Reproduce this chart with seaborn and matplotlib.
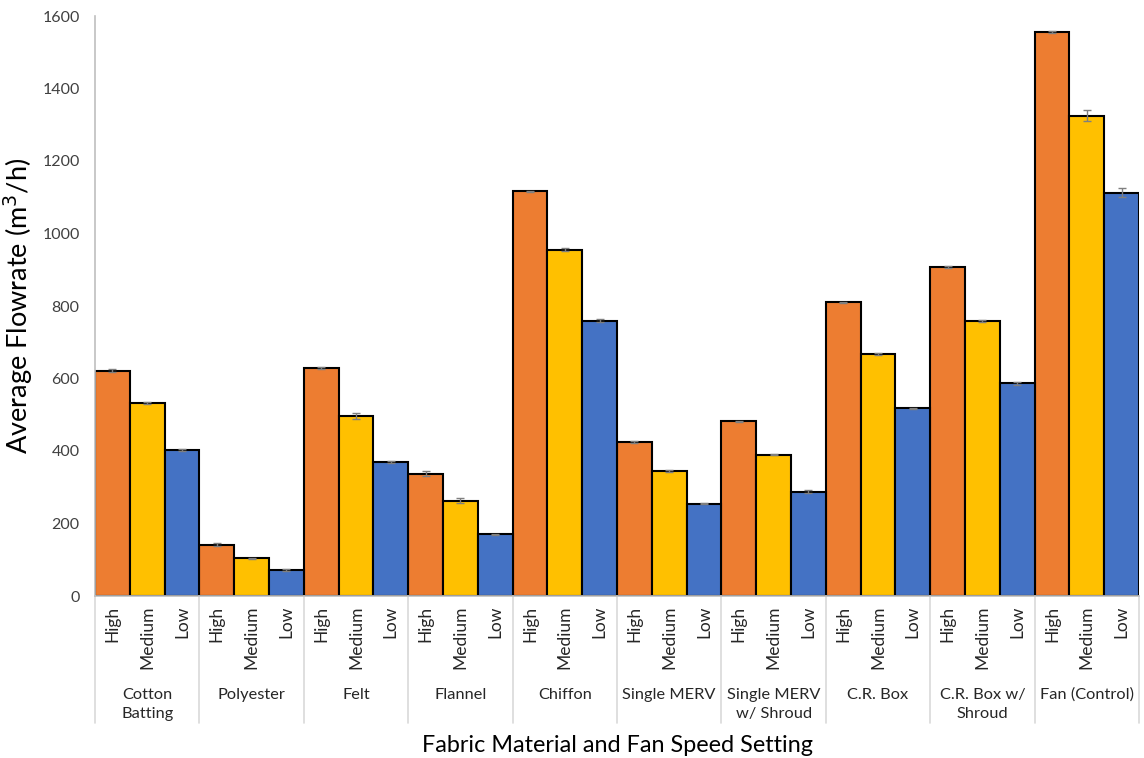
import matplotlib
matplotlib.use("Agg")
import matplotlib.pyplot as plt
import matplotlib.transforms as mtransforms
import numpy as np
import pandas as pd
import seaborn as sns

# Filter materials and fan speeds
materials = ["Cotton\nBatting", "Polyester", "Felt", "Flannel", "Chiffon",
             "Single MERV", "Single MERV\nw/ Shroud", "C.R. Box",
             "C.R. Box w/\nShroud", "Fan (Control)"]
speeds = ["High", "Medium", "Low"]

# Average flowrate (m3/h) per speed setting
flow_high = [622, 142, 630, 337, 1116, 425, 482, 810, 907, 1555]
flow_medium = [533, 104, 496, 263, 955, 345, 390, 668, 758, 1325]
flow_low = [403, 72, 370, 170, 760, 255, 288, 518, 587, 1113]

# Standard deviations
err_high = [4, 3, 3, 7, 2, 3, 2, 2, 2, 3]
err_medium = [3, 2, 9, 7, 4, 2, 2, 2, 3, 16]
err_low = [2, 2, 2, 2, 3, 2, 4, 2, 4, 12]

colors = ["#ED7D31", "#FFC000", "#4472C4"]

rows = []
for s, vals, errs in zip(speeds, [flow_high, flow_medium, flow_low],
                         [err_high, err_medium, err_low]):
    for m, v, e in zip(materials, vals, errs):
        rows.append({"material": m, "speed": s, "flow": v, "err": e})
df = pd.DataFrame(rows)

sns.set_style("white")
plt.rcParams["font.family"] = ["Lato", "DejaVu Sans"]

fig = plt.figure(figsize=(11.44, 7.58), dpi=100)
ax = fig.add_axes([95 / 1144, 1 - 596 / 758, (1139 - 95) / 1144, (596 - 16) / 758])

sns.barplot(data=df, x="material", y="flow", hue="speed", order=materials,
            hue_order=speeds, palette=colors, width=1.0, errorbar=None,
            edgecolor="black", linewidth=1.5, saturation=1, legend=False, ax=ax)

# Error bars at the centres of the drawn bars
for container, s in zip(ax.containers, speeds):
    sub = df[df["speed"] == s].set_index("material").loc[materials]
    xs = [p.get_x() + p.get_width() / 2 for p in container.patches]
    ax.errorbar(xs, sub["flow"].values, yerr=sub["err"].values, fmt="none",
                ecolor="#7F7F7F", elinewidth=1, capsize=3, capthick=1, zorder=5)

ax.set_xlim(-0.5, len(materials) - 0.5)
ax.set_ylim(0, 1600)
ax.set_yticks(np.arange(0, 1601, 200))
ax.tick_params(axis="y", labelsize=11.5, length=5, width=1,
               direction="out", pad=6, color="#BFBFBF", labelcolor="#404040")
ax.set_xticks([])
ax.set_xlabel("")
ax.set_ylabel("Average Flowrate (m$^3$/h)", fontsize=19.5, color="black")
ax.yaxis.set_label_coords(-0.057, 0.5)

for side in ["top", "right"]:
    ax.spines[side].set_visible(False)
for side in ["left", "bottom"]:
    ax.spines[side].set_color("#BFBFBF")
    ax.spines[side].set_linewidth(1.2)

trans = mtransforms.blended_transform_factory(ax.transData, ax.transAxes)

# Speed labels under each bar
for container, s in zip(ax.containers, speeds):
    for p in container.patches:
        ax.text(p.get_x() + p.get_width() / 2, -0.017, s, transform=trans,
                rotation=90, ha="center", va="top", fontsize=12.5,
                color="#262626")

# Group labels and separators
for i, m in enumerate(materials):
    ax.text(i, -0.158, m, transform=trans, ha="center", va="top",
            fontsize=11.8, color="#262626", linespacing=1.45)
for b in np.arange(-0.5, len(materials), 1.0):
    ax.plot([b, b], [0, -0.219], transform=trans, color="#D9D9D9",
            lw=1.2, clip_on=False)

fig.text((95 + 1139) / 2 / 1144, 1 - 745 / 758,
         "Fabric Material and Fan Speed Setting", ha="center", va="center",
         fontsize=16.8, color="black")

fig.savefig("out.png", dpi=100, facecolor="white")
